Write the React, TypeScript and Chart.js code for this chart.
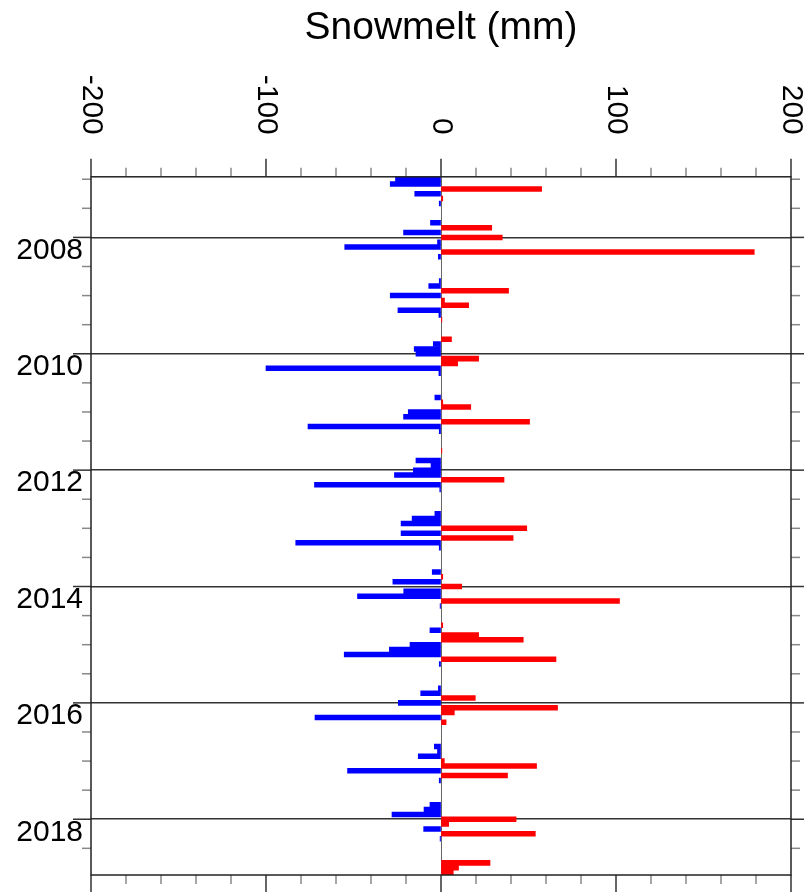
import React, { useEffect, useRef } from 'react';
import { Chart, registerables } from 'chart.js';

Chart.register(...registerables);

const FONT_FAMILY = "'Liberation Sans', Arial, Helvetica, sans-serif";

const years = [2007, 2008, 2009, 2010, 2011, 2012, 2013, 2014, 2015, 2016, 2017, 2018];

// Monthly snowmelt decrease (mm), January..December of each year
const meltDecrease = [
  -26, -29, 0, -15, 0, -1, 0, 0, 0, -6, 0, -21.4, // 2007
  0, -2, -55, 0, -1.5, 0, 0, 0, 0, -1, -7, 0, // 2008
  -29, 0, 0, -24.6, -1.2, 0, 0, 0, 0, 0, -4.4, -15.3, // 2009
  -14.3, 0, 0, -100, -1.2, 0, 0, 0, 0, -3.5, 0, 0, // 2010
  -18.7, -21.4, 0, -76, -1, 0, 0, 0, 0, 0, -14.3, -5.7, // 2011
  -15.8, -26.6, 0, -72.3, -0.7, 0, 0, 0, 0, -3.5, -16.5, -22.8, // 2012
  0, -22.8, 0, -83, -1, 0, 0, 0, 0, -5, 0, -27.5, // 2013
  0, -21.3, -47.7, 0, -0.5, 0, 0, 0, 0, -6.3, 0, 0, // 2014
  -17.7, -29.5, -55.3, 0, -1, 0, 0, 0, 0, -1.5, -11.6, 0, // 2015
  -24.4, 0, 0, -72, 0, 0, 0, 0, 0, -3.8, -2, -13, // 2016
  0, 0, -53.4, 0, -1, 0, 0, 0, 0, -6.3, -9.7, -28, // 2017
  0, 0, -9.9, 0, -0.5, 0, 0, 0, 0, 0, 0, 0, // 2018
];

// Monthly snowmelt increase (mm), January..December of each year
const meltIncrease = [
  0, 0, 57.5, 0, 1, 0, 0, 0, 0, 0, 29, 0, // 2007
  35, 0, 0, 179, 0, 0, 0, 0, 0, 0, 0, 38.6, // 2008
  0, 2, 15.8, 0, 0, 0.5, 0, 0, 0, 6, 0, 0, // 2009
  0, 21.5, 9.5, 0, 0, 0, 0, 0, 0, 0, 1, 17, // 2010
  0, 0, 50.6, 0, 0, 0, 0, 0, 0.5, 0, 0, 0, // 2011
  0, 0, 36, 0, 0, 0, 0, 0, 0, 0, 0, 0, // 2012
  49, 0, 41.2, 0, 0, 0, 0, 0, 0, 0, 1, 0, // 2013
  11.8, 0, 0, 102, 0, 0, 0, 0, 1, 0, 21.5, 47, // 2014
  0, 0, 0, 65.7, 0, 0, 0, 0, 0, 0, 0, 19.6, // 2015
  0, 66.6, 7.6, 0, 2.9, 0, 0, 0, 0, 0, 0, 0, // 2016
  1.9, 54.6, 0, 38, 0, 0, 0, 0, 0, 0, 0, 0, // 2017
  42.9, 4.4, 0, 53.9, 0, 0, 0, 0, 0, 28, 10, 7, // 2018
];

const yearTicks = [2008, 2010, 2012, 2014, 2016, 2018];
const valueLabels = [-200, -100, 0, 100, 200];
const valueMin = -200;
const valueMax = 200;
const valueStep = 20;
const timeStep = 0.5;
const axisTitle = 'Snowmelt (mm)';

type Point = { x: number; y: number };

// One bar per month, placed at the start of the month on the time axis.
function monthlyPoints(values: number[]): Point[] {
  const pts: Point[] = [];
  years.forEach((yr, yi) => {
    for (let m = 0; m < 12; m++) {
      const v = values[yi * 12 + m];
      if (v !== 0) pts.push({ x: v, y: yr + m / 12 });
    }
  });
  return pts;
}

// Frame, tick marks on all four sides and the rotated value labels.
const axisFrame = {
  id: 'axisFrame',
  afterDraw(chart: any) {
    const { ctx, chartArea: a, scales } = chart;
    const xs = scales.x;
    const ys = scales.y;
    const seg = (x1: number, y1: number, x2: number, y2: number) => {
      ctx.beginPath();
      ctx.moveTo(x1, y1);
      ctx.lineTo(x2, y2);
      ctx.stroke();
    };
    ctx.save();
    ctx.lineWidth = 1.5;

    // value axis ticks (top and bottom)
    xs.ticks.forEach((t: any) => {
      const px = xs.getPixelForValue(t.value);
      const major = valueLabels.includes(t.value);
      const len = major ? 18 : 9;
      ctx.strokeStyle = major ? '#333' : '#888';
      seg(px, a.top - len, px, a.top);
      seg(px, a.bottom, px, a.bottom + len);
    });

    // time axis ticks (left and right)
    for (let v = years[0]; v <= ys.max + 1e-9; v += timeStep) {
      const py = ys.getPixelForValue(v);
      const major = yearTicks.some((yt) => Math.abs(yt - v) < 1e-6);
      const len = major ? 18 : 9;
      ctx.strokeStyle = major ? '#333' : '#888';
      seg(a.left - len, py, a.left, py);
      seg(a.right, py, a.right + len, py);
    }

    // plot frame
    ctx.strokeStyle = '#222';
    ctx.lineWidth = 1.5;
    ctx.strokeRect(a.left, a.top, a.right - a.left, a.bottom - a.top);

    // value labels, turned to read downward
    ctx.fillStyle = '#000';
    ctx.font = `30px ${FONT_FAMILY}`;
    ctx.textAlign = 'right';
    ctx.textBaseline = 'middle';
    valueLabels.forEach((v) => {
      const px = xs.getPixelForValue(v);
      ctx.save();
      ctx.translate(px, a.top - 42);
      ctx.rotate(Math.PI / 2);
      ctx.fillText(String(v), 0, 0);
      ctx.restore();
    });
    ctx.restore();
  },
};

export default function App() {
  const canvasRef = useRef<HTMLCanvasElement | null>(null);

  useEffect(() => {
    const canvas = canvasRef.current;
    if (!canvas) return;
    const timeMin = years[0] - 1 / 24;
    const timeMax = years[years.length - 1] + 11 / 12 + 1 / 24;

    const chart = new Chart(canvas, {
      type: 'bar',
      data: {
        datasets: [
          {
            label: 'Decrease',
            data: monthlyPoints(meltDecrease),
            backgroundColor: '#0000ff',
            borderWidth: 0,
            barPercentage: 1,
            categoryPercentage: 1,
          },
          {
            label: 'Increase',
            data: monthlyPoints(meltIncrease),
            backgroundColor: '#ff0000',
            borderWidth: 0,
            barPercentage: 1,
            categoryPercentage: 1,
          },
        ],
      },
      options: {
        indexAxis: 'y',
        animation: false,
        responsive: false,
        layout: { padding: { top: 0, left: 0, right: 13, bottom: 17 } },
        plugins: {
          legend: { display: false },
          tooltip: { enabled: false },
          title: {
            display: true,
            text: axisTitle,
            fullSize: false,
            color: '#000',
            font: { family: FONT_FAMILY, size: 39, weight: 'normal' },
            padding: { top: 5, bottom: 0 },
          },
        },
        scales: {
          x: {
            type: 'linear',
            position: 'top',
            min: valueMin,
            max: valueMax,
            stacked: true,
            z: 1,
            ticks: { display: false, stepSize: valueStep, autoSkip: false },
            grid: {
              drawTicks: false,
              color: (c: any) => (c.tick && c.tick.value === 0 ? '#666' : 'rgba(0,0,0,0)'),
              lineWidth: 1,
            },
            border: { display: false },
            afterFit: (s: any) => {
              s.height = 125;
              s.paddingLeft = 0;
              s.paddingRight = 0;
            },
          },
          y: {
            type: 'linear',
            position: 'left',
            reverse: true,
            offset: false,
            min: timeMin,
            max: timeMax,
            stacked: true,
            z: 1,
            afterBuildTicks: (axis: any) => {
              axis.ticks = yearTicks.map((value) => ({ value }));
            },
            ticks: {
              autoSkip: false,
              padding: 8,
              labelOffset: 13,
              color: '#000',
              font: { family: FONT_FAMILY, size: 30 },
              callback: (v: any) => String(v),
            },
            grid: {
              offset: false,
              drawTicks: false,
              color: '#333',
              lineWidth: 1.5,
            },
            border: { display: false },
            afterFit: (s: any) => {
              s.width = 91;
              s.paddingTop = 0;
              s.paddingBottom = 0;
            },
          },
        },
      },
      plugins: [axisFrame],
    });

    return () => chart.destroy();
  }, []);

  return (
    <div style={{ position: 'absolute', left: 0, top: 0, width: 804, height: 892, background: '#fff' }}>
      <canvas ref={canvasRef} width={804} height={892} style={{ display: 'block' }} />
    </div>
  );
}
